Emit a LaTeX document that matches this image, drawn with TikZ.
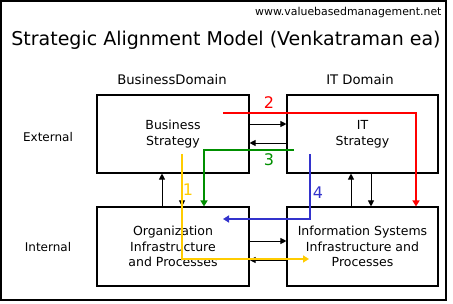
\documentclass[tikz,border=0pt]{standalone}
\usepackage{fontspec}
\setmainfont{DejaVu Sans}
\usetikzlibrary{arrows.meta,positioning}
\definecolor{ink}{HTML}{000000}
\definecolor{redline}{HTML}{FF0000}
\definecolor{greenline}{HTML}{008F00}
\definecolor{yellowline}{HTML}{FFCC00}
\definecolor{blueline}{HTML}{3333CC}

\begin{document}
\begin{tikzpicture}[
  x=1pt, y=-1pt,
  font=\fontsize{12.5}{15.5}\selectfont,
  text=ink,
  box/.style={
    draw=ink,
    line width=1.1pt,
    align=center,
    inner sep=0pt,
    minimum height=78pt,
    minimum width=152pt
  },
  arrow/.style={-{Triangle[length=6pt,width=6pt]}, line width=0.9pt, draw=ink},
  perspective/.style={-{Triangle[length=6pt,width=7pt]}, line width=2pt},
  num/.style={font=\fontsize{16}{16}\selectfont},
  meta/.style={font=\fontsize{12}{14}\selectfont},
  head/.style={font=\fontsize{13.2}{14}\selectfont}
]
\useasboundingbox (0,0) rectangle (453,304);
\draw[line width=1.3pt] (1,1) rectangle (446,300);

\node[font=\fontsize{10.9}{12}\selectfont, anchor=east] (site) at (445,12) {www.valuebasedmanagement.net};
\node[font=\fontsize{19}{22}\selectfont] (title) at (226,40) {Strategic Alignment Model (Venkatraman ea)};

\node[head] (bizdomain) at (172,80) {BusinessDomain};
\node[head] (itdomain) at (360,80) {IT Domain};
\node[meta] (external) at (48,137) {External};
\node[meta] (internal) at (48,247) {Internal};

\node[box] (bizstrat) at (173,134) {Business\\Strategy};
\node[box, minimum width=151pt] (itstrat) at (362.5,134) {IT\\Strategy};
\node[box, minimum height=79pt] (orgproc) at (173,246.5) {Organization\\Infrastructure\\and Processes};
\node[box, minimum height=79pt, minimum width=151pt] (issys) at (362.5,246.5) {Information Systems\\Infrastructure and\\Processes};

% links between the four domains
\draw[arrow] ([yshift=10pt]bizstrat.east) -- ([yshift=10pt]itstrat.west);
\draw[arrow] ([yshift=-9pt]itstrat.west) -- ([yshift=-9pt]bizstrat.east);
\draw[arrow] ([yshift=5.5pt]orgproc.east) -- ([yshift=5.5pt]issys.west);
\draw[arrow] ([yshift=-13.5pt]issys.west) -- ([yshift=-13.5pt]orgproc.east);
\draw[arrow] ([xshift=-11pt]orgproc.north) -- ([xshift=-11pt]bizstrat.south);
\draw[arrow] ([xshift=9pt]bizstrat.south) -- ([xshift=9pt]orgproc.north);
\draw[arrow] ([xshift=-11.5pt]issys.north) -- ([xshift=-11.5pt]itstrat.south);
\draw[arrow] ([xshift=8.5pt]itstrat.south) -- ([xshift=8.5pt]issys.north);

% alignment perspectives
\coordinate (yellowstart) at (182,154);
\coordinate (yellowend) at (309,259);
\coordinate (redstart) at (223,113);
\coordinate (greenstart) at (294,150);
\coordinate (bluestart) at (310,154);
\coordinate (blueend) at (223,219);

\draw[perspective, draw=yellowline] (yellowstart) |- (yellowend);
\draw[perspective, draw=redline] (redstart) -| ([xshift=53.5pt]issys.north);
\draw[perspective, draw=greenline] (greenstart) -| ([xshift=31pt]orgproc.north);
\draw[perspective, draw=blueline] (bluestart) |- (blueend);

\node[num, text=yellowline] (one) at (188,190) {1};
\node[num, text=redline] (two) at (269,103) {2};
\node[num, text=greenline] (three) at (269,160) {3};
\node[num, text=blueline] (four) at (318,193) {4};

\end{tikzpicture}
\end{document}
